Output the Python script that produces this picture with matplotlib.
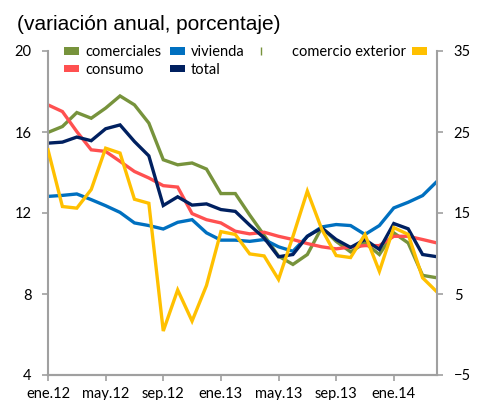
import matplotlib
matplotlib.use("Agg")
import matplotlib.pyplot as plt
from matplotlib.patches import Patch
from matplotlib.lines import Line2D

# ---- data ----
months = ["ene.12", "feb.12", "mar.12", "abr.12", "may.12", "jun.12", "jul.12", "ago.12",
          "sep.12", "oct.12", "nov.12", "dic.12", "ene.13", "feb.13", "mar.13", "abr.13",
          "may.13", "jun.13", "jul.13", "ago.13", "sep.13", "oct.13", "nov.13", "dic.13",
          "ene.14", "feb.14", "mar.14", "abr.14"]
tick_labels = ["ene.12", "may.12", "sep.12", "ene.13", "may.13", "sep.13", "ene.14"]

comerciales = [15.98, 16.27, 16.96, 16.68, 17.18, 17.78, 17.34, 16.44, 14.63, 14.38, 14.47, 14.17,
               12.96, 12.96, 11.9, 10.9, 9.87, 9.46, 9.95, 11.28, 10.6, 10.08, 10.52, 9.95,
               11.02, 10.52, 8.92, 8.80]
vivienda = [12.82, 12.87, 12.94, 12.66, 12.36, 12.03, 11.51, 11.38, 11.21, 11.54, 11.67, 11.02,
            10.66, 10.66, 10.6, 10.69, 10.33, 10.11, 10.85, 11.31, 11.43, 11.38, 10.94, 11.38,
            12.25, 12.53, 12.86, 13.56]
consumo = [17.34, 17.01, 16.02, 15.12, 15.04, 14.55, 14.05, 13.73, 13.35, 13.28, 11.97, 11.67,
           11.51, 11.1, 10.97, 11.05, 10.85, 10.69, 10.49, 10.33, 10.23, 10.32, 10.39, 10.39,
           10.85, 10.85, 10.69, 10.52]
total = [15.45, 15.5, 15.75, 15.57, 16.16, 16.35, 15.53, 14.82, 12.37, 12.8, 12.39, 12.45,
         12.17, 12.08, 11.4, 10.77, 9.84, 9.95, 10.85, 11.26, 10.69, 10.3, 10.69, 10.2,
         11.48, 11.22, 9.95, 9.84]
comercio_exterior = [22.8, 15.8, 15.6, 17.9, 23.0, 22.4, 16.7, 16.2, 0.43, 5.5, 1.66, 6.05,
                     12.7, 12.35, 9.95, 9.7, 6.8, 12.1, 17.7, 13.0, 9.75, 9.5, 12.35, 7.8,
                     13.2, 12.35, 7.0, 5.25]

left_ticks = [4, 8, 12, 16, 20]
right_ticks = [-5, 5, 15, 25, 35]

# ---- style ----
c_com = "#77933C"
c_viv = "#0070C0"
c_con = "#FF5050"
c_tot = "#002060"
c_ext = "#FFC000"
gray = "#A0A0A0"
tick_font = "Lato"
fs = 10.5
lw = 2.4

fig = plt.figure(figsize=(4.78, 4.0), dpi=100)
ax = fig.add_axes([48 / 478, 25 / 400, (437 - 48) / 478, (375 - 51) / 400])
ax2 = ax.twinx()

x = list(range(len(months)))
ax.plot(x, comerciales, color=c_com, lw=lw, solid_joinstyle="miter")
ax.plot(x, vivienda, color=c_viv, lw=lw, solid_joinstyle="miter")
ax.plot(x, consumo, color=c_con, lw=lw, solid_joinstyle="miter")
ax.plot(x, total, color=c_tot, lw=lw, solid_joinstyle="miter")
ax2.plot(x, comercio_exterior, color=c_ext, lw=lw, solid_joinstyle="miter")

ax.set_xlim(0, len(months) - 1)
ax.set_ylim(left_ticks[0], left_ticks[-1])
ax2.set_ylim(right_ticks[0], right_ticks[-1])
ax.set_yticks(left_ticks)
ax2.set_yticks(right_ticks)
ax.set_xticks([months.index(t) for t in tick_labels])
ax.set_xticklabels(tick_labels)

for a in (ax, ax2):
    a.spines["top"].set_visible(False)
    for s in ("left", "right", "bottom"):
        a.spines[s].set_color(gray)
        a.spines[s].set_linewidth(1.5)
    a.tick_params(colors=gray, width=1.2, length=4, direction="out", labelcolor="black",
                  labelsize=fs)
    for lab in a.get_xticklabels() + a.get_yticklabels():
        lab.set_fontfamily(tick_font)
ax.tick_params(axis="y", pad=8)
ax2.tick_params(axis="y", pad=8)
ax.tick_params(axis="x", pad=4.5)
ax2.spines["left"].set_visible(False)
ax.spines["right"].set_visible(False)

# title
fig.text(17 / 478, 1 - 24 / 400, "(variación anual, porcentaje)", fontsize=15,
         family="Liberation Sans", va="center", ha="left")

# legends
h_com = Patch(facecolor=c_com, edgecolor="none")
h_viv = Patch(facecolor=c_viv, edgecolor="none")
h_con = Patch(facecolor=c_con, edgecolor="none")
h_tot = Patch(facecolor=c_tot, edgecolor="none")
h_blank = Line2D([], [], color=c_com, marker="|", linestyle="None", markersize=6,
                 markeredgewidth=1)
h_ext = Patch(facecolor=c_ext, edgecolor="none")

leg1 = fig.legend([h_com, h_con, h_viv, h_tot, h_blank],
                  ["comerciales", "consumo", "vivienda", "total", ""],
                  ncol=3, loc="upper left", bbox_to_anchor=(64 / 478, 1 - 45 / 400),
                  frameon=False, borderpad=0, borderaxespad=0,
                  handlelength=1.05, handleheight=0.45, handletextpad=0.4,
                  columnspacing=0.6, labelspacing=0.25,
                  prop={"family": tick_font, "size": fs})
leg2 = fig.legend([h_ext], ["comercio exterior"], loc="upper right",
                  bbox_to_anchor=(427 / 478, 1 - 45 / 400), markerfirst=False,
                  frameon=False, borderpad=0, borderaxespad=0,
                  handlelength=1.05, handleheight=0.45, handletextpad=0.4,
                  prop={"family": tick_font, "size": fs})

fig.savefig("out.png", dpi=100)
